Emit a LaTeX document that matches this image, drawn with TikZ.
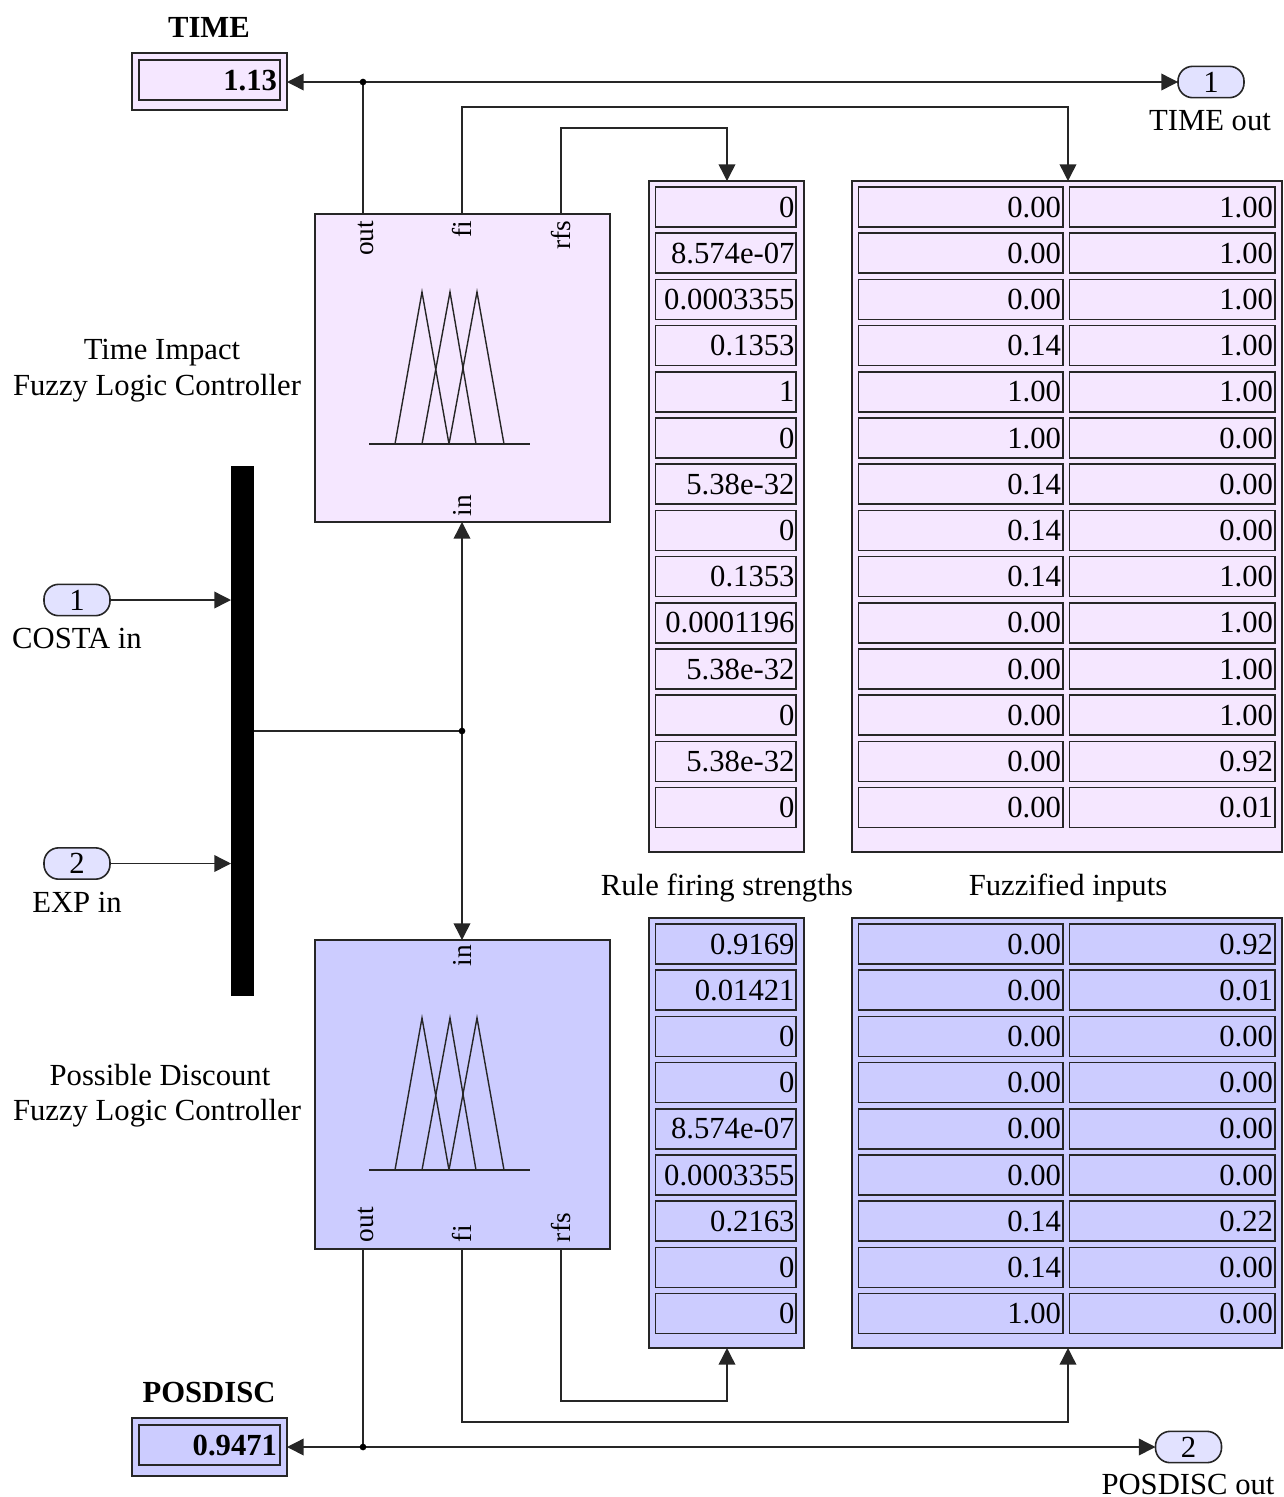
\documentclass[tikz,border=0pt]{standalone}
\usepackage{fontspec}
\setmainfont{Liberation Serif}
\usetikzlibrary{arrows.meta}
\definecolor{pinkf}{HTML}{F5E7FF}
\definecolor{bluef}{HTML}{CCCCFF}
\definecolor{portf}{HTML}{E2E2FF}
\tikzset{
  x=0.75pt,y=-0.75pt,
  every node/.style={inner sep=0pt,outer sep=0pt},
  txt/.style={font=\fontsize{23}{25}\selectfont},
  btxt/.style={font=\fontsize{23}{25}\selectfont\bfseries},
  plab/.style={font=\fontsize{20.5}{22}\selectfont,rotate=90},
  boxr/.style={draw=black!85,line width=1.2pt},
  wire/.style={draw=black!85,line width=1.1pt},
  arr/.style={wire,-{Triangle[length=12.5pt,width=12.5pt]}},
  both/.style={wire,{Triangle[length=12.5pt,width=12.5pt]}-{Triangle[length=12.5pt,width=12.5pt]}},
  dotj/.style={circle,fill=black,minimum size=5pt},
  port/.style={boxr,fill=portf,rounded corners=11pt,minimum width=49.5pt,minimum height=23.5pt,txt},
  mf/.style={draw=black!85,line width=1.05pt,line join=miter},
}
\newcommand{\bx}[6][]{% style, name, x1,y1,x2,y2
  \node[boxr,#1,minimum width={(#5-#3)*0.75pt},minimum height={(#6-#4)*0.75pt},anchor=north west] (#2) at (#3,#4) {};}
\newcommand{\mfs}[1]{%
  \draw[mf] (369,#1) -- (530,#1);
  \foreach \ax/\ay/\ab in {422/395/449,450/422/476,477/449/504}{
    \draw[mf] (\ay,#1) -- (\ax,#1-152) -- (\ab,#1);}}
\begin{document}
\begin{tikzpicture}
\useasboundingbox (0,0) rectangle (1283,1497);
% displays
\bx[fill=pinkf]{td}{132}{53}{287}{110}
\bx[fill=pinkf]{tdi}{139}{60}{280}{100}
\node[btxt,anchor=base east] (tdv) at (277,90) {1.13};
\node[btxt,anchor=base] (tdt) at (209,37) {TIME};
\bx[fill=bluef]{pd}{132}{1418}{287}{1476}
\bx[fill=bluef]{pdi}{139}{1425}{280}{1465}
\node[btxt,anchor=base east] (pdv) at (277,1455) {0.9471};
\node[btxt,anchor=base] (pdt) at (209,1402) {POSDISC};
% controllers
\bx[fill=pinkf]{tb}{315}{214}{610}{522}
\bx[fill=bluef]{bb}{315}{940}{610}{1249}
\mfs{444}
\mfs{1170}
\node[plab,anchor=base east] (tout) at (373,221) {out};
\node[plab,anchor=base east] (tfi) at (471,221) {fi};
\node[plab,anchor=base east] (trfs) at (570,221) {rfs};
\node[plab,anchor=base west] (tin) at (471,516) {in};
\node[plab,anchor=base east] (bin) at (471,945) {in};
\node[plab,anchor=base west] (bout) at (373,1242) {out};
\node[plab,anchor=base west] (bfi) at (471,1242) {fi};
\node[plab,anchor=base west] (brfs) at (570,1242) {rfs};
\node[txt,anchor=base] (tl1) at (162,359) {Time Impact};
\node[txt,anchor=base] (tl2) at (157,395) {Fuzzy Logic Controller};
\node[txt,anchor=base] (bl1) at (160,1085) {Possible Discount};
\node[txt,anchor=base] (bl2) at (157,1120) {Fuzzy Logic Controller};
% mux
\node[fill=black,minimum width=17pt,minimum height=397.5pt,anchor=north west] (mux) at (231,466) {};
% ports
\node[port] (p1) at (77,600) {1};
\node[port] (p2) at (77,863.5) {2};
\node[port] (o1) at (1211,82) {1};
\node[port] (o2) at (1188.5,1447) {2};
\node[txt,anchor=base] (p1l) at (77,648) {COSTA in};
\node[txt,anchor=base] (p2l) at (77,912) {EXP in};
\node[txt,anchor=base] (o1l) at (1210,130) {TIME out};
\node[txt,anchor=base] (o2l) at (1188,1494) {POSDISC out};
% panels
\bx[fill=pinkf]{rp}{649}{181}{804}{852}
\bx[fill=pinkf]{fp}{852}{181}{1282}{852}
\bx[fill=bluef]{rq}{649}{918}{804}{1348}
\bx[fill=bluef]{fq}{852}{918}{1282}{1348}
\node[txt,anchor=base] (rl) at (727,895) {Rule firing strengths};
\node[txt,anchor=base] (fl) at (1068,895) {Fuzzified inputs};
% top cells
\foreach \v/\a/\b [count=\i from 0] in {0/0.00/1.00,8.574e-07/0.00/1.00,0.0003355/0.00/1.00,0.1353/0.14/1.00,1/1.00/1.00,0/1.00/0.00,5.38e-32/0.14/0.00,0/0.14/0.00,0.1353/0.14/1.00,0.0001196/0.00/1.00,5.38e-32/0.00/1.00,0/0.00/1.00,5.38e-32/0.00/0.92,0/0.00/0.01}{
  \pgfmathsetmacro{\yt}{187+46.2*\i}
  \pgfmathsetmacro{\yb}{\yt+40}
  \pgfmathsetmacro{\yc}{\yt+30}
  \bx[fill=pinkf]{rc\i}{655.5}{\yt}{796}{\yb}
  \bx[fill=pinkf]{fa\i}{858.5}{\yt}{1063}{\yb}
  \bx[fill=pinkf]{fb\i}{1069.5}{\yt}{1275}{\yb}
  \node[txt,anchor=base east] (rct\i) at (794.5,\yc) {\v};
  \node[txt,anchor=base east] (fat\i) at (1061,\yc) {\a};
  \node[txt,anchor=base east] (fbt\i) at (1273,\yc) {\b};
}
% bottom cells
\foreach \v/\a/\b [count=\i from 0] in {0.9169/0.00/0.92,0.01421/0.00/0.01,0/0.00/0.00,0/0.00/0.00,8.574e-07/0.00/0.00,0.0003355/0.00/0.00,0.2163/0.14/0.22,0/0.14/0.00,0/1.00/0.00}{
  \pgfmathsetmacro{\yt}{924+46.2*\i}
  \pgfmathsetmacro{\yb}{\yt+40}
  \pgfmathsetmacro{\yc}{\yt+30}
  \bx[fill=bluef]{rd\i}{655.5}{\yt}{796}{\yb}
  \bx[fill=bluef]{ga\i}{858.5}{\yt}{1063}{\yb}
  \bx[fill=bluef]{gb\i}{1069.5}{\yt}{1275}{\yb}
  \node[txt,anchor=base east] (rdt\i) at (794.5,\yc) {\v};
  \node[txt,anchor=base east] (gat\i) at (1061,\yc) {\a};
  \node[txt,anchor=base east] (gbt\i) at (1273,\yc) {\b};
}
% wiring coordinates
\coordinate (jt) at (363,82);
\coordinate (jb) at (363,1447);
\coordinate (jm) at (462,731);
\coordinate (ax) at (363,0);
\coordinate (fx) at (462,0);
\coordinate (rx) at (561,0);
\coordinate (gx) at (1068,0);
\coordinate (sx) at (727,0);
\coordinate (ftop) at (462,107);
\coordinate (rtop) at (561,128);
\coordinate (fbot) at (462,1422);
\coordinate (rbot) at (561,1401);
% wires
\draw[both] (td.east |- jt) -- (o1.west |- jt);
\draw[both] (pd.east |- jb) -- (o2.west |- jb);
\draw[wire] (ax |- tb.north) -- (jt);
\draw[wire] (ax |- bb.south) -- (jb);
\draw[arr] (fx |- tb.north) -- (ftop) -| (gx |- fp.north);
\draw[arr] (rx |- tb.north) -- (rtop) -| (sx |- rp.north);
\draw[arr] (fx |- bb.south) -- (fbot) -| (gx |- fq.south);
\draw[arr] (rx |- bb.south) -- (rbot) -| (sx |- rq.south);
\draw[arr] (p1.east) -- (mux.west |- p1.east);
\draw[arr] (p2.east) -- (mux.west |- p2.east);
\draw[wire] (mux.east |- jm) -- (jm);
\draw[both] (fx |- tb.south) -- (fx |- bb.north);
\node[dotj] (dt) at (jt) {};
\node[dotj] (db) at (jb) {};
\node[dotj] (dm) at (jm) {};
\end{tikzpicture}
\end{document}
